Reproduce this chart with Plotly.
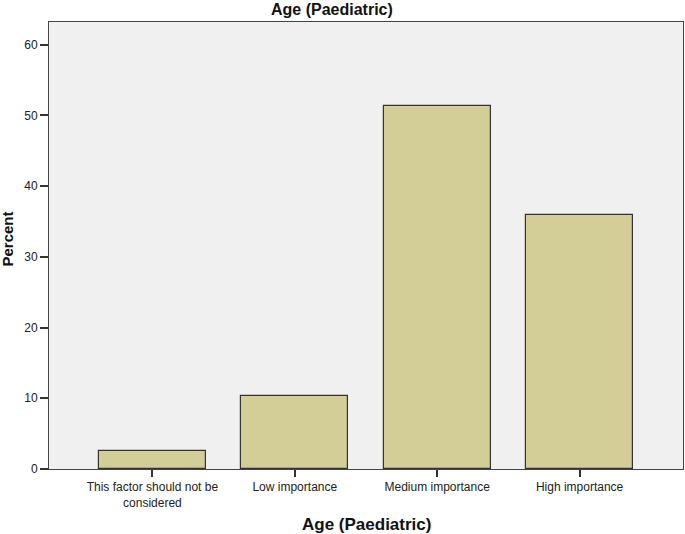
import plotly.graph_objects as go

categories = ["This factor should not be<br>considered", "Low importance", "Medium importance", "High importance"]
percent = [2.56, 10.26, 51.28, 35.90]
y_ticks = [0, 10, 20, 30, 40, 50, 60]

PL, PR, PT, PB = 49, 2, 22, 65
W, H = 685, 534
PW, PH = W - PL - PR, H - PT - PB

fig = go.Figure(go.Bar(
    x=list(range(len(categories))),
    y=percent,
    width=0.75,
    marker=dict(color="#D3CE97", line=dict(color="#333333", width=1.2)),
    hoverinfo="y",
))

fig.update_layout(
    width=W, height=H,
    margin=dict(l=PL, r=PR, t=PT, b=PB, autoexpand=False),
    paper_bgcolor="white",
    plot_bgcolor="#F0F0F0",
    font=dict(family="Liberation Sans, Arial, sans-serif", size=12, color="#222222"),
    showlegend=False,
    bargap=0,
    annotations=[
        dict(text="<b>Age (Paediatric)</b>", xref="paper", x=(332 - PL) / PW, yref="paper", y=1,
             yshift=PT - 9, showarrow=False, font=dict(size=16, color="#111111"),
             xanchor="center", yanchor="middle"),
        dict(text="<b>Age (Paediatric)</b>", xref="paper", x=(366.5 - PL) / PW, yref="paper", y=0,
             yshift=-(524 - (H - PB)), showarrow=False, font=dict(size=17, color="#111111"),
             xanchor="center", yanchor="middle"),
        dict(text="<b>Percent</b>", xref="paper", x=0, xshift=-(PL - 7), yref="paper",
             y=((H - PB) - 239.5) / PH,
             showarrow=False, textangle=-90, font=dict(size=15, color="#111111"),
             xanchor="center", yanchor="middle"),
    ],
)

fig.update_xaxes(
    range=[-0.726, 3.726], automargin=False,
    tickmode="array", tickvals=list(range(len(categories))), ticktext=categories,
    ticks="outside", ticklen=7, tickcolor="#333333", tickwidth=1.5,
    showgrid=False, zeroline=False,
    showline=True, linecolor="#444444", linewidth=1, mirror=True,
    tickfont=dict(size=12),
)
fig.update_yaxes(
    range=[0, 63.2], automargin=False,
    tickmode="array", tickvals=y_ticks,
    ticks="outside", ticklen=8, tickcolor="#333333", tickwidth=1.5,
    showgrid=False, zeroline=False,
    showline=True, linecolor="#444444", linewidth=1, mirror=True,
    tickfont=dict(size=12),
)

fig.write_html(
    "out.html",
    config={"displayModeBar": False},
    post_script="document.body.style.margin='0';document.body.style.overflow='hidden';",
)
